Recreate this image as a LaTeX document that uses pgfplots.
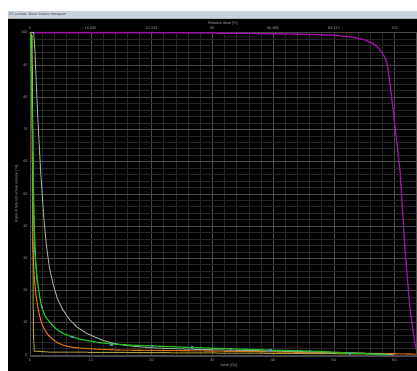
\documentclass[border=0pt]{standalone}
\usepackage{pgfplots}
\pgfplotsset{compat=1.18}
\usepackage{fontspec}
\setmainfont{Liberation Sans}
\definecolor{titlebar}{HTML}{C9D3DE}
\definecolor{dvhpurple}{HTML}{A010A8}
\definecolor{dvhgreen}{HTML}{22C022}
\definecolor{dvhpale}{HTML}{98AC94}
\definecolor{dvhorange}{HTML}{D87018}
\definecolor{dvhyellow}{HTML}{B0A030}
\definecolor{dvhlime}{HTML}{8CD838}
\definecolor{dvhmark}{HTML}{5090B0}
\definecolor{ticktext}{HTML}{A0A0A0}
\definecolor{majgrid}{HTML}{484848}
\definecolor{mingrid}{HTML}{262626}
\begin{document}
\begin{tikzpicture}
\fill[white] (0bp,0bp) rectangle (417bp,371bp);
\fill[black] (8bp,0bp) rectangle (417bp,353bp);
\fill[titlebar] (8bp,353bp) rectangle (417bp,360bp);
\draw[gray!60,line width=0.3bp] (8bp,353bp) -- (417bp,353bp);
\node[anchor=west,font=\fontsize{3.5}{4}\selectfont,inner sep=0pt,text=black!75] at (9bp,356.5bp) {RT Lumbar: Dose Volume Histogram};
\begin{axis}[at={(30bp,15bp)}, anchor=south west, scale only axis,
  width=386bp, height=324bp,
  xmin=0, xmax=63.5, ymin=-0.3, ymax=100.2,
  xtick={0,10,...,60}, ytick={0,10,...,100}, minor tick num=4,
  grid=both,
  major grid style={draw=majgrid, line width=0.5bp},
  minor grid style={draw=mingrid, line width=0.4bp},
  axis line style={draw=majgrid},
  tick style={draw=none},
  /pgf/number format/assume math mode=true,
  ticklabel style={font=\fontsize{3.8}{4.5}\selectfont, text=ticktext},
  xticklabel style={yshift=1bp},
  yticklabel style={xshift=1bp},
  label style={font=\fontsize{3.8}{4.5}\selectfont, text=ticktext},
  xlabel={Dose [Gy]},
  xlabel style={yshift=4bp, xshift=6bp},
  ylabel={Ratio of total structure volume [\%]},
  ylabel style={yshift=-4bp},
  clip=true,
]
% purple
\addplot[dvhpurple, line width=1.3bp] coordinates {
(0,100) (20,100) (35,99.8) (45,99.5) (50,99.2) (53,98.6) (55,97.8) (56.5,96.6) (57.5,95) (58.2,93) (58.7,91) (59.2,85) (60,72) (60.9,57) (61.7,33) (62.5,15) (63.3,4) (63.8,0)
};
% orange
\addplot[dvhorange, line width=1.1bp] coordinates {
(0,100) (0.2,99) (0.3,80) (0.4,55) (0.5,32) (0.6,27.5) (0.7,24) (0.9,20) (1.1,17) (1.3,14.8) (1.5,12.8) (1.7,11.3) (1.9,10) (2.2,8.6) (2.5,7.5) (2.9,6.4) (3.3,5.6) (3.9,4.6) (4.5,3.8) (5.5,3.0) (6.6,2.5) (8,2.15) (10,1.9) (12,1.7) (14.8,1.5) (20,1.4) (30,1.2) (45,0.8) (55,0.5) (63.5,0.25)
};
% yellow
\addplot[dvhyellow, line width=1bp] coordinates {
(0,100) (0.35,99) (0.42,70) (0.48,40) (0.55,8) (0.7,1.2) (3,0.9) (20,0.7) (40,0.5) (55,0.3) (58,0.1)
};
% pale
\addplot[dvhpale, line width=1bp] coordinates {
(0,100) (0.6,100) (0.8,95) (1.0,86) (1.25,75) (1.5,66) (1.75,57) (2.0,50) (2.3,42) (2.7,34) (3.2,27) (3.8,22) (4.5,17.5) (5.4,14) (6.5,11) (7.7,8.7) (9.2,6.8) (11,5.3) (12.3,4.3) (13.7,3.6) (15.5,3) (17,2.7) (20,2.2) (25,1.85) (30,1.6) (40,1.2) (50,0.8) (57,0.4) (60,0)
};
% lime
\addplot[dvhlime, line width=0.9bp] coordinates {
(0,100) (0.25,99) (0.4,80) (0.55,55) (0.7,40) (0.9,30) (1.2,22)
};
% green
\addplot[dvhgreen, line width=1.2bp] coordinates {
(0,100) (0.1,99.5) (0.2,90) (0.3,78) (0.45,66) (0.6,45) (0.8,32) (1.0,27) (1.3,22) (1.6,18) (1.9,15) (2.5,12) (3.3,10) (4.0,8.6) (4.5,7.8) (5.5,6.6) (6.9,5.6) (8,5) (9,4.6) (11,3.9) (13.4,3.4) (16,3.1) (20,2.8) (26.6,2.3) (33,1.9) (39.5,1.5) (46,1.2) (52.6,0.6) (56,0.3) (58.7,0)
};
% markers
\addplot[only marks, mark=square*, mark size=0.8bp, draw=dvhmark, fill=dvhmark] coordinates {
(0.8,32) (1.9,15) (6.9,5.6) (13.4,3.4) (20,2.8) (26.6,2.3) (33,1.9) (39.5,1.5) (46,1.2) (52.6,0.6)
};
\end{axis}
\begin{axis}[at={(30bp,15bp)}, anchor=south west, scale only axis,
  width=386bp, height=324bp,
  xmin=0, xmax=105.833, ymin=0, ymax=100,
  axis x line*=top, axis line style={draw=none},
  hide y axis,
  xtick={0,16.666,33.333,50,66.666,83.333,100},
  xticklabels={0,16.666,33.333,50,66.666,83.333,100},
  tick style={draw=none},
  ticklabel style={font=\fontsize{3.8}{4.5}\selectfont, text=ticktext},
  xticklabel style={yshift=-1.5bp},
  label style={font=\fontsize{3.8}{4.5}\selectfont, text=ticktext},
  xlabel={Relative dose [\%]},
  xlabel style={yshift=-5bp},
]
\addplot[draw=none] coordinates {(0,0) (100,100)};
\end{axis}
\end{tikzpicture}
\end{document}
